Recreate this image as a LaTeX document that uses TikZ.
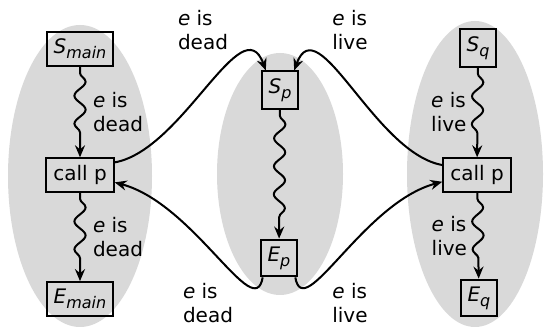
\documentclass[tikz,border=0pt]{standalone}
\usepackage{fontspec}
\setmainfont{DejaVu Sans}
\usetikzlibrary{arrows.meta,decorations.pathmorphing}
\newcommand{\procpt}[2]{\textit{#1}\raisebox{-0.45ex}{\fontsize{8}{9}\selectfont\itshape #2}}

\begin{document}
\begin{tikzpicture}[x=0.5pt,y=0.5pt,>={Stealth[length=6pt,width=5pt,inset=2pt]},line width=1pt,
  blk/.style={draw,inner sep=3.5pt},
  lbl/.style={align=left,inner sep=0pt},
  wave/.style={->,decorate,decoration={snake,segment length=14pt,amplitude=2.8pt,pre length=3pt,post length=6pt}},
  region/.style={fill=black!15}]
\useasboundingbox (0,0) rectangle (546,-330);

% procedure regions
\fill[region] (80,-176) ellipse [x radius=72,y radius=151];
\fill[region] (280,-174) ellipse [x radius=63,y radius=121];
\fill[region] (475,-174) ellipse [x radius=68,y radius=153];

% main
\node[blk] (Smain) at (80,-49) {\procpt{S}{main}};
\node[blk] (callmain) at (80,-175) {call p};
\node[blk] (Emain) at (80,-299) {\procpt{E}{main}};

% p
\node[blk] (Sp) at (280,-90) {\procpt{S}{p}};
\node[blk] (Ep) at (279,-258) {\procpt{E}{p}};

% q
\node[blk] (Sq) at (478,-48) {\procpt{S}{q}};
\node[blk] (callq) at (477,-175) {call p};
\node[blk] (Eq) at (479,-298) {\procpt{E}{q}};

% paths inside procedures
\draw[wave] (Smain) -- node[lbl,right=6pt] (dm1) {\textit{e} is\\dead} (callmain);
\draw[wave] (callmain) -- node[lbl,right=6pt] (dm2) {\textit{e} is\\dead} (Emain);
\draw[wave] (Sp) -- (Ep);
\draw[wave] (Sq) -- node[lbl,left=5pt] (lq1) {\textit{e} is\\live} (callq);
\draw[wave] (callq) -- node[lbl,left=5pt] (lq2) {\textit{e} is\\live} (Eq);

% call and return edges
\draw[->] (callmain.20) to[out=10,in=110] (Sp.126);
\draw[->] (callq.164) to[out=170,in=70] (Sp.54);
\draw[->] (Ep.-130) to[out=-100,in=-15,out looseness=0.7,in looseness=1.2] (callmain.-12);
\draw[->] (Ep.-50) to[out=-80,in=-165,out looseness=0.7,in looseness=1.2] (callq.-169);

\node[lbl] (calldead) at (203,-30) {\textit{e} is\\dead};
\node[lbl] (calllive) at (350,-30) {\textit{e} is\\live};
\node[lbl] (retdead) at (208,-303) {\textit{e} is\\dead};
\node[lbl] (retlive) at (350,-303) {\textit{e} is\\live};
\end{tikzpicture}
\end{document}
